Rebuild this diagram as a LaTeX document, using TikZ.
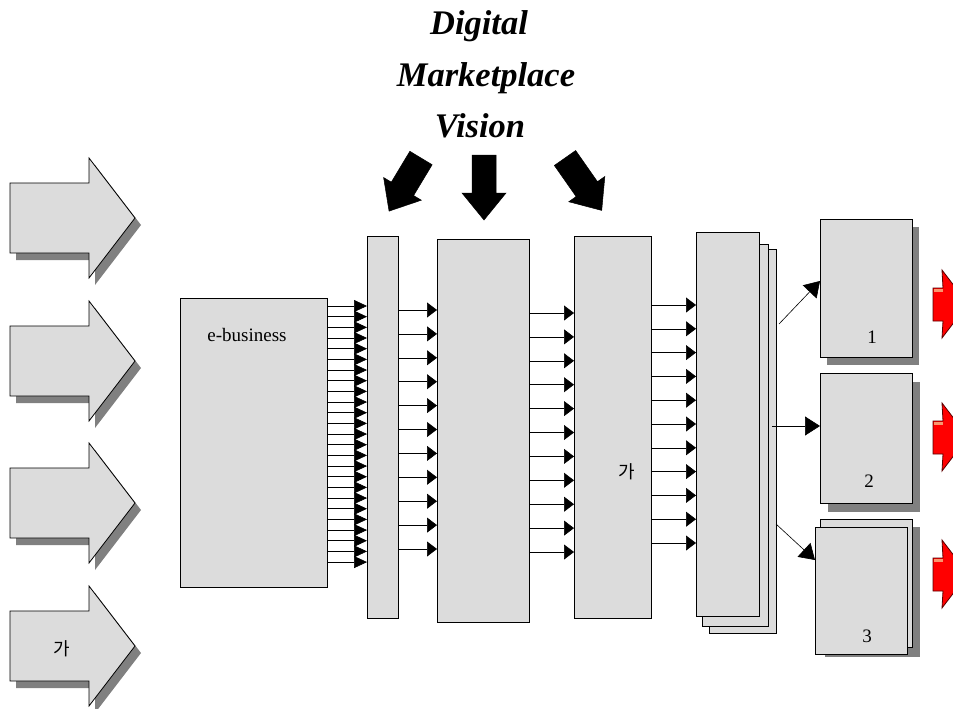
\documentclass[tikz,border=0pt]{standalone}
\usepackage{fontspec}
\setmainfont{Liberation Serif}
\newfontfamily\kr{Noto Sans CJK KR}
\usetikzlibrary{arrows.meta}
\definecolor{boxgray}{RGB}{220,220,220}
\definecolor{shadowgray}{RGB}{128,128,128}
\definecolor{salmonlight}{RGB}{250,150,110}
\definecolor{darkred}{RGB}{90,0,0}
\begin{document}
\begin{tikzpicture}[x=1pt,y=-1pt,
  box/.style={draw=black, line width=0.9pt, fill=boxgray, inner sep=0pt, outer sep=0pt},
  shadowfill/.style={fill=shadowgray, draw=none},
  grayarrow/.style={draw=black, line width=0.8pt, fill=boxgray},
  blackarrow/.style={fill=black, draw=black, line width=0.5pt},
  redarrow/.style={fill=red, draw=darkred, line width=0.8pt},
  fine/.style={-{Triangle[length=13pt,width=12pt]}, line width=0.6pt},
  midarr/.style={-{Triangle[length=10pt,width=15pt]}, line width=0.6pt},
  conn/.style={-{Triangle[length=15pt,width=19pt]}, line width=0.6pt},
  lbl/.style={font=\fontsize{19}{22}\selectfont, inner sep=0pt},
  krlbl/.style={font=\kr\fontsize{18}{20}\selectfont, inner sep=0pt},
  title/.style={font=\fontsize{34.5}{40}\selectfont\bfseries\itshape, inner sep=0pt, anchor=base}
]
\useasboundingbox (0,0) rectangle (953,709);

% Title
\node[title] (t1) at (479,35) {Digital};
\node[title] (t2) at (486,86) {Marketplace};
\node[title] (t3) at (480,137) {Vision};

% Left gray arrows
\foreach \c in {218,361,503,646}{
  \fill[shadowfill, shift={(6,7)}] (10,\c-35) -- (89,\c-35) -- (89,\c-60) -- (135,\c) -- (89,\c+60) -- (89,\c+35) -- (10,\c+35) -- cycle;
  \draw[grayarrow] (10,\c-35) -- (89,\c-35) -- (89,\c-60) -- (135,\c) -- (89,\c+60) -- (89,\c+35) -- (10,\c+35) -- cycle;
}
\node[krlbl] (ga1) at (62,649) {가};

% Black vision arrows
\begin{scope}[shift={(421,158)}, rotate=-31]
  \fill[blackarrow] (-13,0) -- (13,0) -- (13,36) -- (22,36) -- (0,62) -- (-22,36) -- (-13,36) -- cycle;
\end{scope}
\begin{scope}[shift={(484,155)}]
  \fill[blackarrow] (-12,0) -- (12,0) -- (12,38) -- (22,38) -- (0,65) -- (-22,38) -- (-12,38) -- cycle;
\end{scope}
\begin{scope}[shift={(565,158)}, rotate=35]
  \fill[blackarrow] (-13,0) -- (13,0) -- (13,38) -- (22,38) -- (0,64) -- (-22,38) -- (-13,38) -- cycle;
\end{scope}

% Boxes
\node[box, minimum width=147pt, minimum height=289pt] (eb) at (253.5,442.5) {};
\node[lbl] (ebl) at (247,335) {e-business};
\node[box, minimum width=31pt, minimum height=382pt] (bar1) at (382.5,427) {};
\node[box, minimum width=92pt, minimum height=383pt] (mid) at (483,430.5) {};
\node[box, minimum width=77pt, minimum height=382pt] (b3) at (612.5,427) {};
\node[krlbl] (b3l) at (627,472) {가};

% Stack
\node[box, minimum width=67pt, minimum height=384pt] (st3) at (742.5,441) {};
\node[box, minimum width=66pt, minimum height=382pt] (st2) at (735,435) {};
\node[box, minimum width=63pt, minimum height=384pt] (st1) at (727.5,424) {};

% Output boxes
\fill[shadowfill] (827,227) rectangle (919,365);
\node[box, minimum width=92pt, minimum height=138pt] (o1) at (866,288) {};
\node[lbl] (o1l) at (872,337) {1};
\fill[shadowfill] (828,382) rectangle (920,512);
\node[box, minimum width=92pt, minimum height=130pt] (o2) at (866,438) {};
\node[lbl] (o2l) at (869,481) {2};
\fill[shadowfill] (825,527) rectangle (920,657);
\node[box, minimum width=92pt, minimum height=128pt] (o3b) at (866,583) {};
\node[box, minimum width=92pt, minimum height=127pt] (o3) at (861,590.5) {};
\node[lbl] (o3l) at (867,636) {3};

% Fine arrows e-business -> bar1
\foreach \i in {0,...,24}{
  \pgfmathsetmacro\yy{306+10.67*\i}
  \draw[fine] (eb.east |- 0,\yy) -- (bar1.west |- 0,\yy);
}
% bar1 -> mid
\foreach \i in {0,...,10}{
  \pgfmathsetmacro\yy{310+23.9*\i}
  \draw[midarr] (bar1.east |- 0,\yy) -- (mid.west |- 0,\yy);
}
% mid -> b3
\foreach \i in {0,...,10}{
  \pgfmathsetmacro\yy{313+23.9*\i}
  \draw[midarr] (mid.east |- 0,\yy) -- (b3.west |- 0,\yy);
}
% b3 -> stack
\foreach \i in {0,...,10}{
  \pgfmathsetmacro\yy{305+23.8*\i}
  \draw[midarr] (b3.east |- 0,\yy) -- (st1.west |- 0,\yy);
}

% Stack -> outputs
\coordinate (s1) at (779,324);
\coordinate (s2) at (772,426);
\coordinate (s3) at (776,524);
\draw[conn] (s1) -- (o1.west |- 0,281);
\draw[conn] (s2) -- (o2.west |- 0,426);
\draw[conn] (s3) -- (o3.west |- 0,560);

% Red arrows
\foreach \c in {304,437,574}{
  \draw[redarrow] (933,\c-16) -- (943,\c-16) -- (942,\c-34) -- (968,\c) -- (942,\c+34) -- (943,\c+17) -- (933,\c+17) -- cycle;
  \fill[salmonlight] (933.5,\c-15.5) rectangle (942.5,\c-12.5);
}
\end{tikzpicture}
\end{document}
